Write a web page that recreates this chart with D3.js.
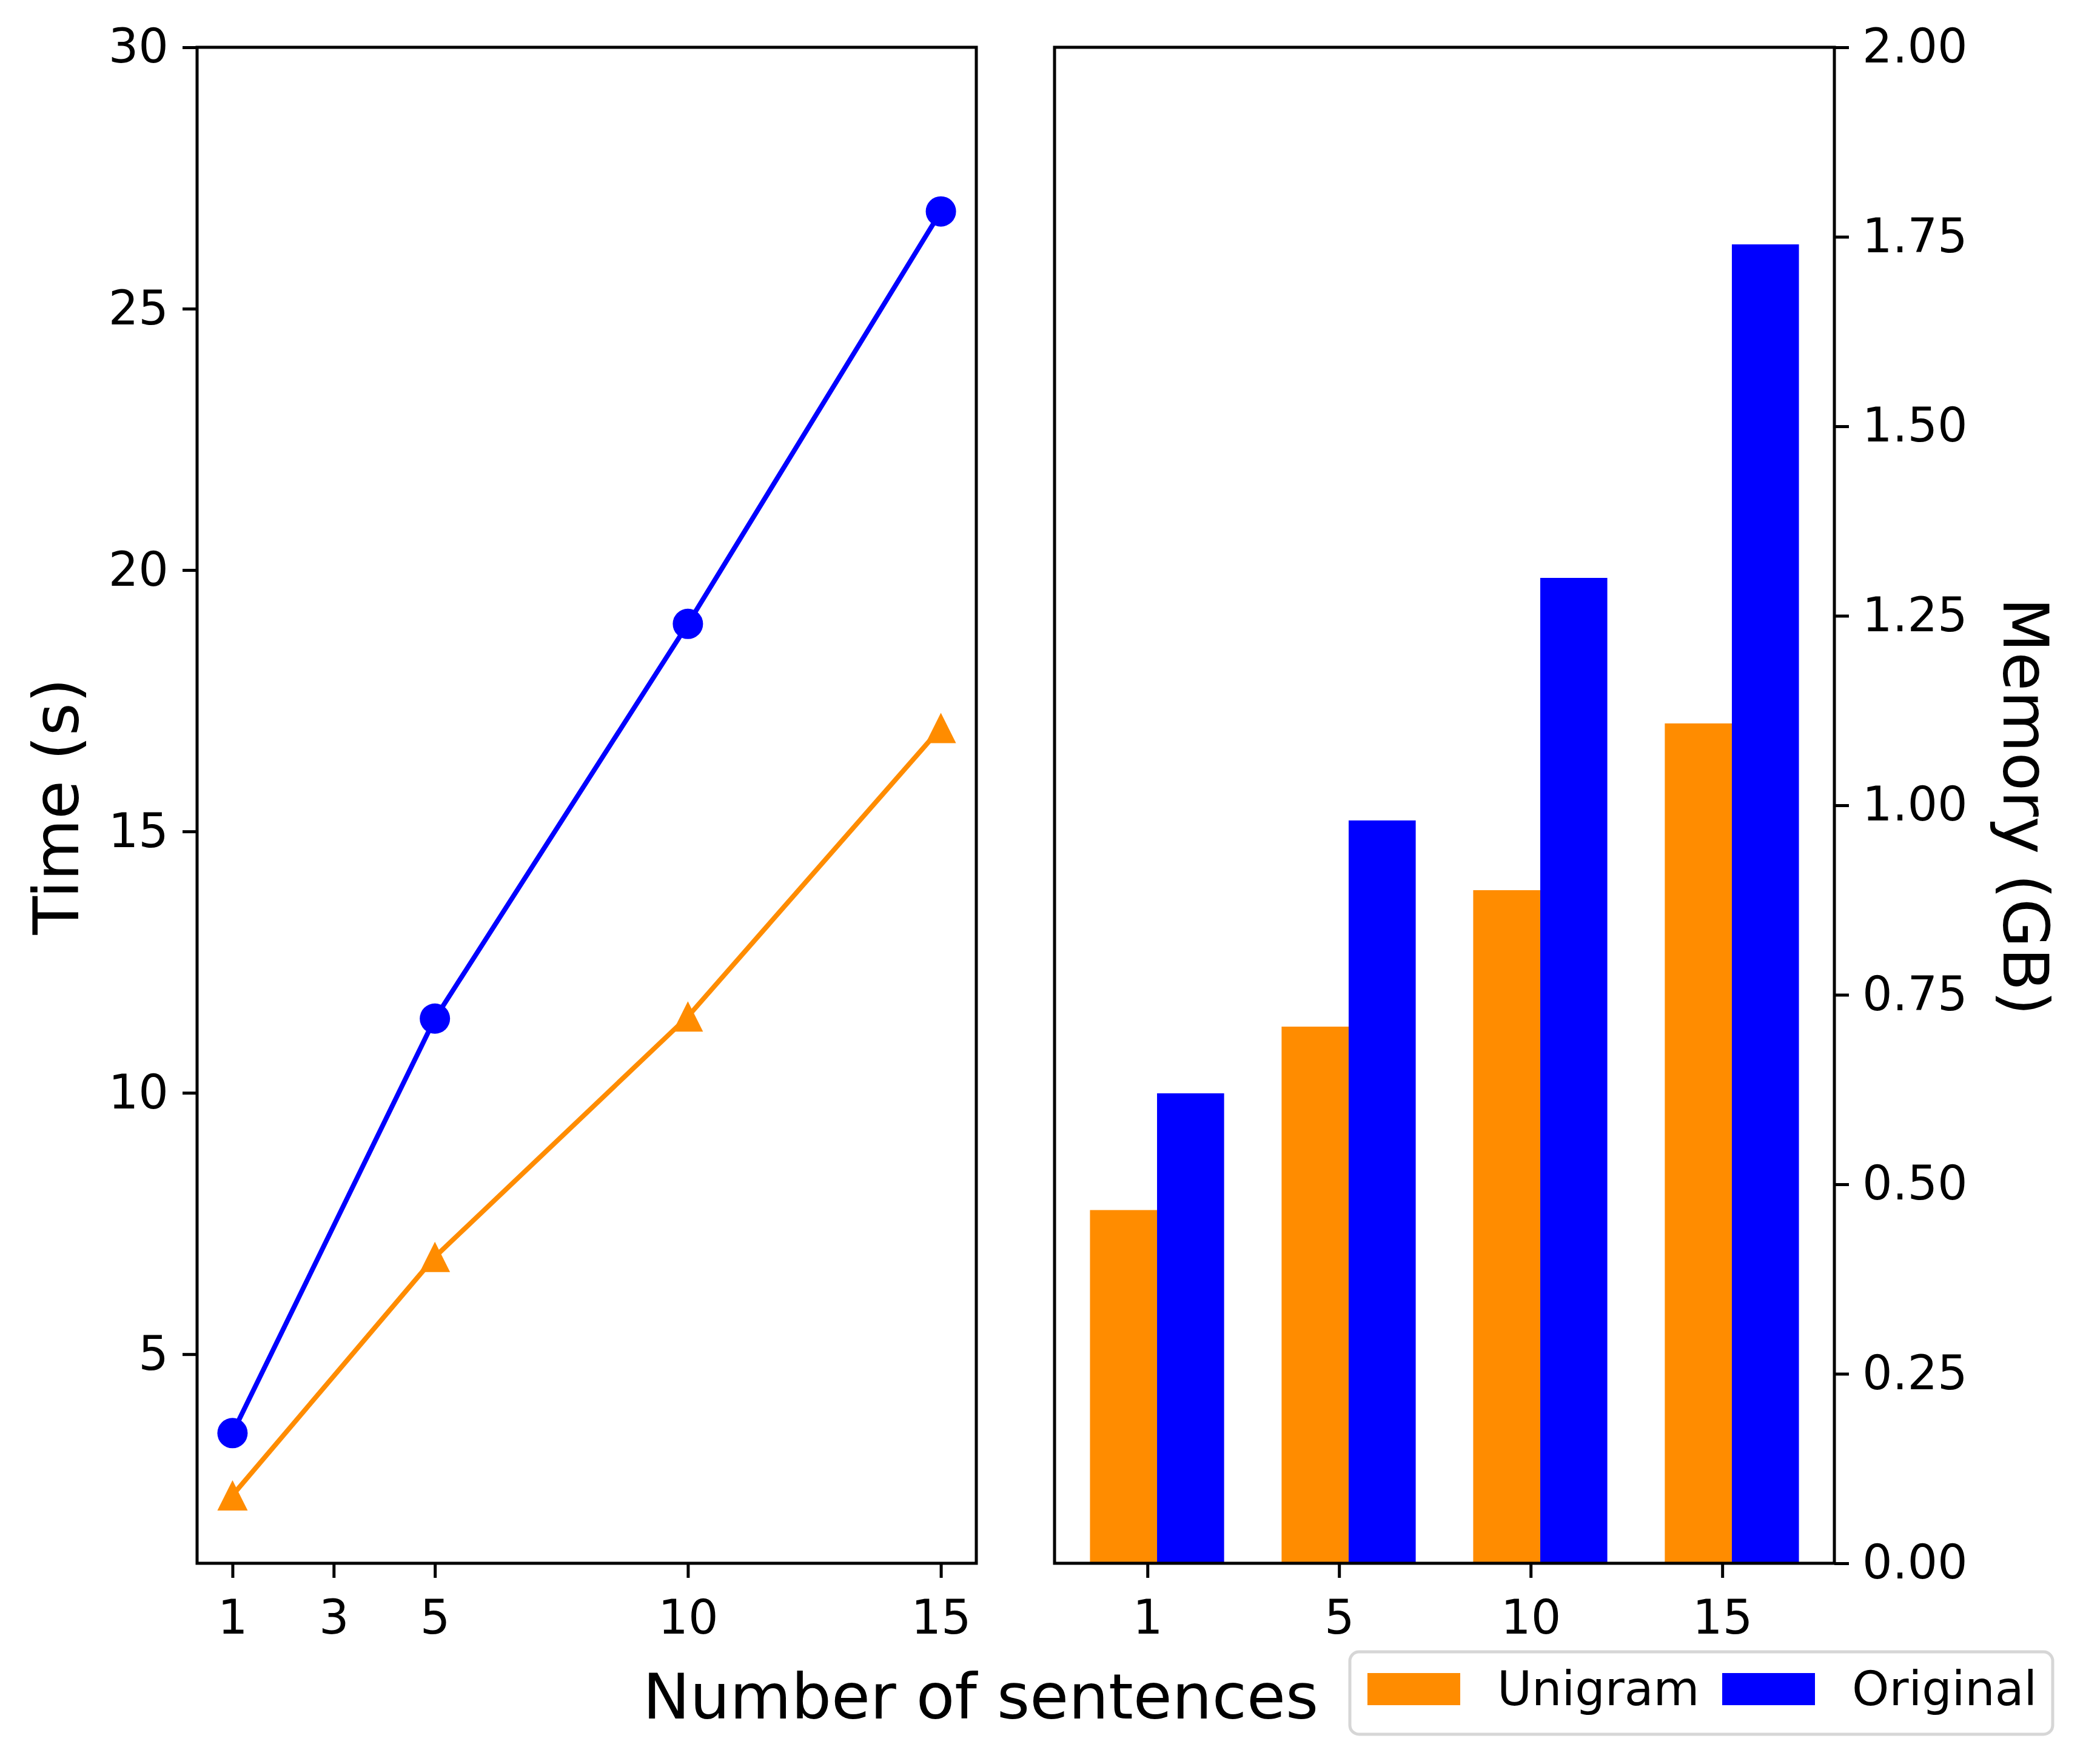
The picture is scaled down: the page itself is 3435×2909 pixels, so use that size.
<!DOCTYPE html>
<html>
<head>
<meta charset="utf-8">
<script src="https://cdn.jsdelivr.net/npm/d3@7"></script>
<style>
  body { margin: 0; background: #fff; }
  text { font-family: "DejaVu Sans", sans-serif; fill: #000; }
</style>
</head>
<body>
<svg width="3435" height="2909"></svg>
<script>
// data
const sentences = [1, 5, 10, 15];
const timeXTicks = [1, 3, 5, 10, 15];
const timeYTicks = [5, 10, 15, 20, 25, 30];
const timeUnigram = [2.30, 6.86, 11.46, 16.98];
const timeOriginal = [3.49, 11.42, 18.97, 26.86];
const memYTicks = [0, 0.25, 0.5, 0.75, 1.0, 1.25, 1.5, 1.75, 2.0];
const memUnigram = [0.466, 0.708, 0.888, 1.108];
const memOriginal = [0.62, 0.98, 1.30, 1.74];
const seriesNames = ["Unigram", "Original"];
const seriesColors = ["#ff8c00", "#0000ff"];

window.onload = () => {
  const svg = d3.select("svg");
  const top = 78, bottom = 2578;
  const left1 = 325, right1 = 1610;
  const left2 = 1739, right2 = 3025;
  const tickFont = 78, labelFont = 104;
  const spineW = 5;

  // ---------- left panel: time ----------
  const x1 = d3.scaleLinear().domain([0.3, 15.7]).range([left1, right1]);
  const y1 = d3.scaleLinear().domain([1, 30]).range([bottom, top]);

  const g1 = svg.append("g");

  const line = d3.line().x((d, i) => x1(sentences[i])).y(d => y1(d));
  const timeSeries = [timeUnigram, timeOriginal];
  timeSeries.forEach((vals, s) => {
    g1.append("path")
      .datum(vals)
      .attr("d", line)
      .attr("fill", "none")
      .attr("stroke", seriesColors[s])
      .attr("stroke-width", 8);
  });

  const m = 50; // marker size
  g1.selectAll(".tri")
    .data(timeUnigram)
    .enter()
    .append("path")
    .attr("class", "tri")
    .attr("d", `M0,${-m / 2}L${-m / 2},${m / 2}L${m / 2},${m / 2}Z`)
    .attr("transform", (d, i) => `translate(${x1(sentences[i])},${y1(d)})`)
    .attr("fill", seriesColors[0]);

  g1.selectAll(".dot")
    .data(timeOriginal)
    .enter()
    .append("circle")
    .attr("class", "dot")
    .attr("cx", (d, i) => x1(sentences[i]))
    .attr("cy", d => y1(d))
    .attr("r", m / 2)
    .attr("fill", seriesColors[1]);

  const xAxis1 = d3.axisBottom(x1).tickValues(timeXTicks).tickSize(24).tickPadding(37).tickSizeOuter(0);
  const yAxis1 = d3.axisLeft(y1).tickValues(timeYTicks).tickSize(24).tickPadding(23).tickSizeOuter(0);

  g1.append("g").attr("transform", `translate(0,${bottom})`).call(xAxis1);
  g1.append("g").attr("transform", `translate(${left1},0)`).call(yAxis1);

  g1.append("rect")
    .attr("x", left1).attr("y", top)
    .attr("width", right1 - left1).attr("height", bottom - top)
    .attr("fill", "none").attr("stroke", "#000").attr("stroke-width", spineW);

  // ---------- right panel: memory ----------
  const x2 = d3.scaleLinear().domain([-0.485, 3.585]).range([left2, right2]);
  const y2 = d3.scaleLinear().domain([0, 2]).range([bottom, top]);
  const barW = 0.35;
  const offsets = [-0.125, 0.225];

  const g2 = svg.append("g");
  [memUnigram, memOriginal].forEach((vals, s) => {
    g2.selectAll(".bar" + s)
      .data(vals)
      .enter()
      .append("rect")
      .attr("class", "bar" + s)
      .attr("x", (d, i) => x2(i + offsets[s] - barW / 2))
      .attr("width", (d, i) => x2(i + offsets[s] + barW / 2) - x2(i + offsets[s] - barW / 2))
      .attr("y", d => y2(d))
      .attr("height", d => y2(0) - y2(d))
      .attr("fill", seriesColors[s]);
  });

  const xAxis2 = d3.axisBottom(x2)
    .tickValues(d3.range(sentences.length))
    .tickFormat(i => sentences[i])
    .tickSize(24).tickPadding(37).tickSizeOuter(0);
  const yAxis2 = d3.axisRight(y2)
    .tickValues(memYTicks)
    .tickFormat(d3.format(".2f"))
    .tickSize(24).tickPadding(22).tickSizeOuter(0);

  g2.append("g").attr("transform", `translate(0,${bottom})`).call(xAxis2);
  g2.append("g").attr("transform", `translate(${right2},0)`).call(yAxis2);

  g2.append("rect")
    .attr("x", left2).attr("y", top)
    .attr("width", right2 - left2).attr("height", bottom - top)
    .attr("fill", "none").attr("stroke", "#000").attr("stroke-width", spineW);

  // axis styling
  svg.selectAll(".domain").remove();
  svg.selectAll(".tick line").attr("stroke", "#000").attr("stroke-width", spineW);
  svg.selectAll(".tick text")
    .style("font-family", "DejaVu Sans")
    .style("font-size", tickFont + "px")
    .attr("fill", "#000");

  // axis labels
  svg.append("text")
    .attr("transform", "translate(129,1330) rotate(-90)")
    .attr("text-anchor", "middle")
    .style("font-size", labelFont + "px")
    .text("Time (s)");

  svg.append("text")
    .attr("transform", "translate(3304,1330) rotate(90)")
    .attr("text-anchor", "middle")
    .style("font-size", labelFont + "px")
    .text("Memory (GB)");

  svg.append("text")
    .attr("x", 1617).attr("y", 2834)
    .attr("text-anchor", "middle")
    .style("font-size", labelFont + "px")
    .text("Number of sentences");

  // legend
  const lg = svg.append("g");
  lg.append("rect")
    .attr("x", 2226).attr("y", 2724)
    .attr("width", 1159).attr("height", 136)
    .attr("rx", 15)
    .attr("fill", "#fff")
    .attr("stroke", "#d6d6d6")
    .attr("stroke-width", 5);

  const items = lg.selectAll(".item")
    .data(seriesNames)
    .enter()
    .append("g")
    .attr("class", "item")
    .attr("transform", (d, i) => `translate(${2255 + i * 585},0)`);
  items.append("rect")
    .attr("x", 0).attr("y", 2759)
    .attr("width", 153).attr("height", 53)
    .attr("fill", (d, i) => seriesColors[i]);
  items.append("text")
    .attr("x", 214).attr("y", 2812)
    .style("font-size", tickFont + "px")
    .text(d => d);
};
</script>
</body>
</html>
